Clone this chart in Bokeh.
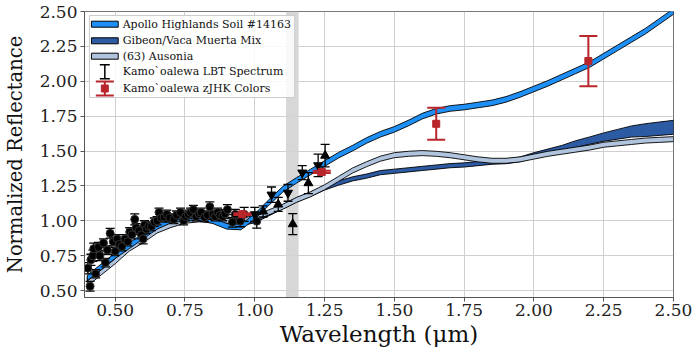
import numpy as np
from bokeh.plotting import figure
from bokeh.models import (BoxAnnotation, Label, Arrow, TeeHead,
                          FixedTicker, NumeralTickFormatter)
from bokeh.embed import file_html
from bokeh.resources import INLINE

# ---------------- data ----------------
WL = [0.40, 0.45, 0.50, 0.55, 0.60, 0.65, 0.70, 0.75, 0.80, 0.85, 0.90, 0.95,
      1.00, 1.05, 1.10, 1.15, 1.20, 1.25, 1.30, 1.35, 1.40, 1.45, 1.50, 1.55,
      1.60, 1.65, 1.70, 1.75, 1.80, 1.85, 1.90, 1.95, 2.00, 2.05, 2.10, 2.15,
      2.20, 2.25, 2.30, 2.35, 2.40, 2.45, 2.50]

APOLLO = [0.59, 0.67, 0.75, 0.82, 0.89, 0.96, 1.005, 1.02, 1.02, 1.00, 0.96, 0.955,
          1.03, 1.13, 1.225, 1.29, 1.35, 1.41, 1.47, 1.52, 1.575, 1.62, 1.655, 1.70,
          1.75, 1.785, 1.805, 1.815, 1.83, 1.845, 1.87, 1.905, 1.945, 1.985, 2.03, 2.075,
          2.12, 2.18, 2.24, 2.30, 2.36, 2.43, 2.50]
APOLLO_HW = [0.02] * 43

GIBEON = [0.58, 0.66, 0.74, 0.82, 0.88, 0.94, 0.985, 1.005, 1.01, 1.00, 0.985, 0.98,
          1.00, 1.05, 1.10, 1.15, 1.19, 1.235, 1.27, 1.30, 1.32, 1.345, 1.355, 1.365,
          1.375, 1.385, 1.395, 1.40, 1.41, 1.42, 1.425, 1.44, 1.47, 1.495, 1.52, 1.55,
          1.575, 1.60, 1.62, 1.64, 1.65, 1.66, 1.67]
GIBEON_HW = [0.015, 0.015, 0.015, 0.015, 0.015, 0.015, 0.015, 0.015, 0.015, 0.015, 0.015, 0.015,
             0.015, 0.015, 0.015, 0.015, 0.015, 0.015, 0.015, 0.015, 0.015, 0.015, 0.015, 0.015,
             0.015, 0.015, 0.015, 0.015, 0.015, 0.015, 0.016, 0.017, 0.018, 0.019, 0.02, 0.024,
             0.026, 0.03, 0.035, 0.04, 0.046, 0.048, 0.05]

AUSONIA = [0.55, 0.63, 0.71, 0.80, 0.86, 0.93, 0.97, 1.00, 1.01, 1.01, 1.00, 1.00,
           1.02, 1.06, 1.10, 1.15, 1.19, 1.24, 1.30, 1.36, 1.405, 1.445, 1.47, 1.48,
           1.485, 1.48, 1.47, 1.455, 1.44, 1.43, 1.43, 1.44, 1.46, 1.48, 1.495, 1.51,
           1.525, 1.545, 1.555, 1.565, 1.575, 1.58, 1.585]
AUSONIA_HW = [0.018] * 43

# LBT spectrum (visible, circles)
LBT_X = [0.402, 0.410, 0.413, 0.420, 0.423, 0.430, 0.440, 0.445, 0.458, 0.465,
         0.472, 0.482, 0.493, 0.500, 0.507, 0.515, 0.524, 0.535, 0.545, 0.552,
         0.560, 0.570, 0.575, 0.585, 0.594, 0.600, 0.605, 0.612, 0.620, 0.630,
         0.640, 0.650, 0.657, 0.665, 0.675, 0.685, 0.695, 0.710, 0.720, 0.734,
         0.745, 0.752, 0.762, 0.770, 0.780, 0.790, 0.800, 0.808, 0.820, 0.830,
         0.839, 0.850, 0.858, 0.867, 0.875, 0.885, 0.893, 0.902, 0.920, 0.930,
         0.948, 0.962, 1.007]
LBT_Y = [0.66, 0.53, 0.72, 0.75, 0.80, 0.62, 0.81, 0.75, 0.84, 0.70,
         0.79, 0.91, 0.85, 0.78, 0.87, 0.83, 0.815, 0.87, 0.85, 0.92,
         0.90, 1.01, 0.95, 0.93, 0.90, 0.87, 0.97, 0.94, 0.96, 0.96,
         0.99, 1.00, 1.06, 1.02, 1.025, 1.046, 1.02, 1.01, 1.04, 1.06,
         1.00, 1.03, 1.046, 1.06, 1.08, 1.03, 1.05, 1.06, 1.025, 1.04,
         1.10, 1.046, 1.03, 1.06, 1.04, 1.03, 1.05, 1.08, 0.99, 1.046,
         0.997, 1.046, 0.997]
LBT_ERR = [0.04, 0.035, 0.04, 0.04, 0.04, 0.03, 0.035, 0.035, 0.03, 0.03,
           0.03, 0.035, 0.03, 0.03, 0.03, 0.03, 0.03, 0.03, 0.03, 0.03,
           0.03, 0.04, 0.03, 0.03, 0.03, 0.035, 0.03, 0.03, 0.03, 0.03,
           0.03, 0.03, 0.03, 0.03, 0.03, 0.03, 0.03, 0.03, 0.03, 0.03,
           0.03, 0.03, 0.03, 0.03, 0.03, 0.03, 0.03, 0.03, 0.03, 0.03,
           0.035, 0.03, 0.03, 0.03, 0.03, 0.03, 0.03, 0.035, 0.035, 0.035,
           0.04, 0.05, 0.05]

# LBT spectrum (near-IR, down / up triangles)
DN_X = [1.000, 1.060, 1.119, 1.170, 1.227]
DN_Y = [1.046, 1.187, 1.200, 1.345, 1.397]
DN_ERR = [0.05, 0.055, 0.06, 0.05, 0.08]
UP_X = [1.030, 1.084, 1.136, 1.192, 1.252]
UP_Y = [1.067, 1.117, 0.976, 1.270, 1.467]
UP_ERR = [0.04, 0.05, 0.075, 0.075, 0.08]

# zJHK colours
ZJHK_X = [0.955, 1.240, 1.650, 2.195]
ZJHK_Y = [1.047, 1.350, 1.695, 2.145]
ZJHK_ERR = [0.006, 0.008, 0.115, 0.18]

TELLURIC = (1.112, 1.157)

X_TICKS = [0.50, 0.75, 1.00, 1.25, 1.50, 1.75, 2.00, 2.25, 2.50]
Y_TICKS = [0.50, 0.75, 1.00, 1.25, 1.50, 1.75, 2.00, 2.25, 2.50]

LEGEND_LABELS = ["Apollo Highlands Soil #14163", "Gibeon/Vaca Muerta Mix",
                 "(63) Ausonia", "Kamo`oalewa LBT Spectrum", "Kamo`oalewa zJHK Colors"]

# ---------------- styling ----------------
C_APOLLO = "#1e8ff5"
C_GIBEON = "#2c5aa3"
C_AUSONIA = "#b0c4de"
C_RED = "#b8262b"
FONT = "DejaVu Serif"

X0, X1 = 0.39, 2.50
Y0, Y1 = 0.45, 2.50
W, H = 692, 352
BL, BR, BT, BB = 79, 19, 11, 55
FW, FH = W - BL - BR, H - BT - BB

p = figure(width=W, height=H, x_range=(X0, X1), y_range=(Y0, Y1),
           output_backend="svg", toolbar_location=None,
           min_border_left=BL, min_border_right=BR, min_border_top=BT, min_border_bottom=BB)
p.background_fill_color = "white"
p.border_fill_color = "white"
p.outline_line_color = "#777777"

for ax in (p.xaxis[0], p.yaxis[0]):
    ax.axis_line_color = "#555555"
    ax.major_tick_line_color = "#555555"
    ax.major_tick_out = 4
    ax.major_tick_in = 0
    ax.minor_tick_line_color = None
    ax.major_label_text_font = FONT
    ax.major_label_text_font_size = "17px"
    ax.major_label_text_color = "#222222"
    ax.axis_label_text_font = FONT
    ax.axis_label_text_font_style = "normal"
    ax.axis_label_text_color = "#111111"
    ax.formatter = NumeralTickFormatter(format="0.00")

p.xaxis.ticker = FixedTicker(ticks=X_TICKS)
p.yaxis.ticker = FixedTicker(ticks=Y_TICKS)
p.xaxis.axis_label = "Wavelength (μm)"
p.yaxis.axis_label = "Normalized Reflectance"
p.xaxis.axis_label_text_font_size = "23px"
p.yaxis.axis_label_text_font_size = "19.5px"
p.xaxis.major_label_standoff = 2
p.yaxis.major_label_standoff = 3
p.xaxis.axis_label_standoff = 2
p.yaxis.axis_label_standoff = 10
p.grid.grid_line_color = "#cfcfcf"
p.grid.grid_line_width = 1

# telluric band
p.add_layout(BoxAnnotation(left=TELLURIC[0], right=TELLURIC[1], fill_color="#d3d3d3",
                           fill_alpha=0.9, line_alpha=0, level="underlay"))

# model bands
wl = np.array(WL)
def band(center, hw, color):
    c = np.array(center); h = np.array(hw)
    xs = np.concatenate([wl, wl[::-1]])
    ys = np.concatenate([c + h, (c - h)[::-1]])
    p.patch(xs, ys, fill_color=color, line_color="black", line_width=0.9)

band(GIBEON, GIBEON_HW, C_GIBEON)
band(AUSONIA, AUSONIA_HW, C_AUSONIA)
band(APOLLO, APOLLO_HW, C_APOLLO)

# error bar helper
def errbars(x, y, e, color, cap, lw):
    x = np.array(x); y = np.array(y); e = np.array(e)
    p.segment(x0=x, y0=y - e, x1=x, y1=y + e, line_color=color, line_width=lw)
    p.scatter(x=np.concatenate([x, x]), y=np.concatenate([y - e, y + e]),
              marker="dash", size=cap, line_color=color, line_width=lw)

errbars(LBT_X, LBT_Y, LBT_ERR, "black", 9, 1.3)
errbars(DN_X, DN_Y, DN_ERR, "black", 9, 1.3)
errbars(UP_X, UP_Y, UP_ERR, "black", 9, 1.3)
p.scatter(LBT_X, LBT_Y, marker="circle", size=8, fill_color="black", line_color="#333333")
p.scatter(DN_X, DN_Y, marker="inverted_triangle", size=9, fill_color="black", line_color="black")
p.scatter(UP_X, UP_Y, marker="triangle", size=9, fill_color="black", line_color="black")

errbars(ZJHK_X, ZJHK_Y, ZJHK_ERR, C_RED, 18, 2)
p.scatter(ZJHK_X, ZJHK_Y, marker="square", size=7, fill_color=C_RED, line_color=C_RED)

# ---------------- legend (pixel layout relative to frame) ----------------
def fx(px): return X0 + px * (X1 - X0) / FW
def fy(py): return Y1 - py * (Y1 - Y0) / FH

p.add_layout(BoxAnnotation(left=fx(5), right=fx(212), top=fy(4), bottom=fy(86),
                           fill_color="white", fill_alpha=0.85,
                           line_color="#cccccc", line_alpha=1, line_width=1))
rows = [12.7, 29.3, 44.7, 60.3, 77.0]
for r, col in zip(rows[:3], [C_APOLLO, C_GIBEON, C_AUSONIA]):
    p.add_layout(BoxAnnotation(left=fx(7), right=fx(34), top=fy(r - 3), bottom=fy(r + 3),
                               fill_color=col, fill_alpha=1,
                               line_color="black", line_alpha=1, line_width=1))
p.add_layout(Arrow(x_start=fx(20.5), y_start=fy(rows[3] + 7), x_end=fx(20.5), y_end=fy(rows[3] - 7),
                   line_color="black", line_width=1.5,
                   start=TeeHead(size=10, line_color="black", line_width=1.5),
                   end=TeeHead(size=10, line_color="black", line_width=1.5)))
p.add_layout(Arrow(x_start=fx(20.5), y_start=fy(rows[4] + 7), x_end=fx(20.5), y_end=fy(rows[4] - 7),
                   line_color=C_RED, line_width=2,
                   start=TeeHead(size=18, line_color=C_RED, line_width=2),
                   end=TeeHead(size=18, line_color=C_RED, line_width=2)))
p.add_layout(BoxAnnotation(left=fx(17), right=fx(24), top=fy(rows[4] - 3.5), bottom=fy(rows[4] + 3.5),
                           fill_color=C_RED, fill_alpha=1, line_color=C_RED, line_alpha=1))
for r, txt in zip(rows, LEGEND_LABELS):
    p.add_layout(Label(x=fx(38.5), y=fy(r), text=txt, text_baseline="middle",
                       text_font=FONT, text_font_size="11px", text_color="#111111"))

open("out.html", "w").write(file_html(p, INLINE))
